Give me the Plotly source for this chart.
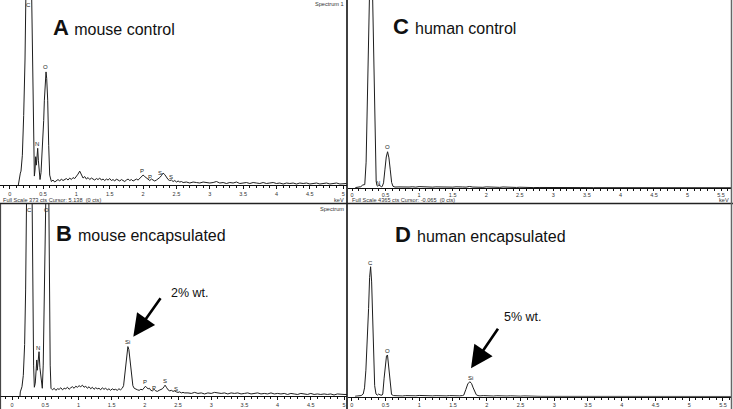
import plotly.graph_objects as go

W, H = 733, 409

# ---------------- data (keV, counts) ----------------
spectrum_a = [  # mouse control, full scale 373 cts
    (0.13, 0), (0.14, 10), (0.15, 20), (0.16, 24), (0.17, 28), (0.19, 60), (0.21, 140),
    (0.23, 252), (0.25, 450), (0.27, 700), (0.29, 820), (0.31, 660), (0.33, 380),
    (0.345, 200), (0.36, 45), (0.37, 18), (0.38, 30), (0.39, 57), (0.40, 40), (0.41, 62),
    (0.42, 74), (0.43, 50), (0.44, 22), (0.455, 11), (0.47, 25), (0.49, 70), (0.51, 130),
    (0.52, 171), (0.53, 210), (0.545, 228), (0.555, 215), (0.57, 171), (0.585, 80), (0.60, 20),
    (0.625, 7), (0.65, 10), (0.675, 6), (0.70, 9), (0.725, 11), (0.75, 8), (0.775, 12),
    (0.80, 9), (0.825, 11), (0.85, 13), (0.875, 10), (0.90, 14), (0.925, 11), (0.95, 15),
    (0.975, 13), (1.00, 17), (1.025, 22), (1.05, 28), (1.075, 19), (1.10, 14), (1.125, 17),
    (1.15, 12), (1.175, 15), (1.20, 11), (1.225, 14), (1.25, 12), (1.275, 10), (1.30, 13),
    (1.325, 11), (1.35, 14), (1.375, 10), (1.40, 12), (1.425, 9), (1.45, 12), (1.475, 10),
    (1.50, 13), (1.525, 9), (1.55, 11), (1.575, 8), (1.60, 12), (1.625, 10), (1.65, 8),
    (1.675, 11), (1.70, 9), (1.725, 7), (1.75, 10), (1.775, 12), (1.80, 9), (1.825, 11),
    (1.85, 8), (1.875, 10), (1.90, 12), (1.925, 10), (1.95, 13), (1.975, 15), (2.00, 20),
    (2.025, 17), (2.05, 14), (2.075, 11), (2.10, 9), (2.125, 12), (2.15, 10), (2.175, 8),
    (2.20, 10), (2.225, 12), (2.25, 15), (2.275, 19), (2.30, 24), (2.325, 21), (2.35, 15),
    (2.375, 11), (2.40, 9), (2.425, 10), (2.45, 7), (2.475, 9), (2.50, 6), (2.525, 8),
    (2.55, 6), (2.575, 7), (2.60, 5), (2.65, 6), (2.70, 4), (2.75, 6), (2.80, 5), (2.85, 4),
    (2.90, 6), (2.95, 5), (3.00, 4), (3.05, 5), (3.10, 7), (3.15, 4), (3.20, 5), (3.25, 3),
    (3.30, 5), (3.35, 4), (3.40, 6), (3.45, 3), (3.50, 4), (3.55, 5), (3.60, 3), (3.65, 5),
    (3.70, 4), (3.75, 3), (3.80, 5), (3.85, 3), (3.90, 4), (3.95, 5), (4.00, 3), (4.05, 4),
    (4.10, 2), (4.15, 4), (4.20, 3), (4.25, 4), (4.30, 2), (4.35, 4), (4.40, 3), (4.45, 4),
    (4.50, 2), (4.55, 3), (4.60, 4), (4.65, 2), (4.70, 3), (4.75, 4), (4.80, 2), (4.85, 3),
    (4.90, 4), (4.95, 2), (5.00, 3), (5.05, 3),
]

spectrum_b = [  # mouse encapsulated
    (0.12, 0), (0.125, 8), (0.15, 18), (0.17, 40), (0.19, 100), (0.205, 206), (0.22, 400),
    (0.24, 650), (0.26, 760), (0.28, 680), (0.30, 420), (0.31, 206), (0.325, 60), (0.336, 17),
    (0.35, 25), (0.365, 54), (0.372, 70), (0.38, 50), (0.395, 75), (0.407, 86), (0.42, 55),
    (0.44, 25), (0.456, 15), (0.47, 60), (0.487, 206), (0.50, 380), (0.52, 560), (0.535, 600),
    (0.55, 450), (0.562, 206), (0.575, 60), (0.587, 15),
    (0.61, 12), (0.635, 15), (0.66, 11), (0.685, 14), (0.71, 13), (0.735, 16), (0.76, 12),
    (0.785, 15), (0.81, 14), (0.835, 17), (0.86, 13), (0.885, 16), (0.91, 18), (0.935, 15),
    (0.96, 19), (0.985, 17), (1.01, 20), (1.035, 18), (1.06, 21), (1.085, 17), (1.11, 19),
    (1.135, 15), (1.16, 18), (1.185, 14), (1.21, 17), (1.235, 13), (1.26, 16), (1.285, 14),
    (1.31, 15), (1.335, 12), (1.36, 16), (1.385, 13), (1.41, 15), (1.435, 12), (1.46, 14),
    (1.485, 11), (1.51, 14), (1.535, 12), (1.56, 13), (1.585, 11), (1.61, 14), (1.635, 12),
    (1.66, 15), (1.68, 20), (1.70, 45), (1.715, 70), (1.73, 88), (1.745, 96), (1.76, 90),
    (1.775, 70), (1.79, 48), (1.805, 30), (1.82, 20), (1.84, 15), (1.865, 13), (1.89, 12),
    (1.915, 11), (1.94, 13), (1.965, 12), (1.99, 15), (2.01, 19), (2.03, 16), (2.05, 14),
    (2.07, 15), (2.09, 11), (2.115, 10), (2.14, 13), (2.165, 10), (2.19, 9), (2.215, 11),
    (2.24, 12), (2.265, 14), (2.29, 18), (2.305, 21), (2.325, 17), (2.35, 12), (2.375, 10),
    (2.40, 11), (2.425, 9), (2.45, 10), (2.475, 8), (2.50, 7), (2.525, 8), (2.55, 6),
    (2.575, 7), (2.60, 6), (2.65, 6), (2.70, 5), (2.75, 7), (2.80, 5), (2.85, 6), (2.90, 4),
    (2.95, 6), (3.00, 5), (3.05, 7), (3.10, 6), (3.15, 5), (3.20, 6), (3.25, 4), (3.30, 6),
    (3.35, 5), (3.40, 6), (3.45, 4), (3.50, 5), (3.55, 6), (3.60, 4), (3.65, 5), (3.70, 6),
    (3.75, 4), (3.80, 5), (3.85, 4), (3.90, 6), (3.95, 4), (4.00, 5), (4.05, 4), (4.10, 5),
    (4.15, 3), (4.20, 5), (4.25, 4), (4.30, 3), (4.35, 5), (4.40, 4), (4.45, 3), (4.50, 5),
    (4.55, 3), (4.60, 4), (4.65, 3), (4.70, 4), (4.75, 3), (4.80, 4), (4.85, 2), (4.90, 4),
    (4.95, 3), (5.00, 3), (5.05, 3),
]

spectrum_c = [  # human control, full scale 4365 cts
    (0.05, 10), (0.10, 15), (0.13, 30), (0.16, 70), (0.19, 80), (0.21, 600), (0.23, 2180),
    (0.25, 4000), (0.265, 5400), (0.28, 6000), (0.295, 5400), (0.31, 4200), (0.33, 2180),
    (0.345, 700), (0.36, 150), (0.375, 50), (0.38, 40), (0.40, 70), (0.42, 40), (0.44, 30),
    (0.45, 35), (0.47, 120), (0.49, 421), (0.51, 720), (0.53, 842), (0.55, 700), (0.57, 421),
    (0.59, 130), (0.61, 40), (0.64, 22), (0.70, 25), (0.75, 20), (0.80, 30), (0.85, 22),
    (0.90, 28), (0.95, 20), (1.00, 32), (1.05, 26), (1.10, 22), (1.15, 30), (1.20, 20),
    (1.25, 26), (1.30, 22), (1.35, 28), (1.40, 18), (1.45, 25), (1.50, 20), (1.55, 27),
    (1.60, 18), (1.65, 24), (1.70, 20), (1.75, 35), (1.80, 22), (1.85, 18), (1.90, 24),
    (1.95, 16), (2.00, 26), (2.05, 20), (2.10, 16), (2.15, 22), (2.20, 15), (2.25, 24),
    (2.30, 18), (2.35, 14), (2.40, 20), (2.45, 13), (2.50, 18), (2.55, 12), (2.60, 15),
    (2.70, 10), (2.80, 12), (2.90, 9), (3.00, 11), (3.20, 9), (3.40, 10), (3.60, 8),
    (3.80, 9), (4.00, 8), (4.20, 9), (4.40, 7), (4.60, 8), (4.80, 7), (5.00, 8), (5.20, 7),
    (5.40, 7), (5.65, 6),
]

spectrum_d = [  # human encapsulated
    (0.05, 10), (0.10, 14), (0.14, 25), (0.17, 60), (0.19, 200), (0.21, 600), (0.23, 1200),
    (0.25, 2000), (0.265, 2700), (0.28, 2944), (0.295, 2600), (0.31, 1600), (0.325, 800),
    (0.34, 250), (0.36, 60), (0.38, 35), (0.40, 60), (0.42, 40), (0.45, 35), (0.46, 60),
    (0.48, 420), (0.50, 750), (0.515, 920), (0.53, 945), (0.545, 700), (0.56, 420),
    (0.575, 160), (0.59, 50), (0.62, 25), (0.66, 18), (0.70, 22), (0.75, 16), (0.80, 24),
    (0.85, 18), (0.90, 26), (0.95, 20), (1.00, 28), (1.05, 22), (1.10, 18), (1.15, 25),
    (1.20, 19), (1.25, 23), (1.30, 17), (1.35, 22), (1.40, 18), (1.45, 24), (1.50, 17),
    (1.55, 21), (1.60, 19), (1.64, 25), (1.66, 35), (1.69, 160), (1.72, 290), (1.75, 340),
    (1.775, 300), (1.80, 200), (1.82, 110), (1.845, 45), (1.87, 25), (1.90, 18), (1.95, 24),
    (2.00, 16), (2.05, 22), (2.10, 15), (2.15, 21), (2.20, 14), (2.25, 20), (2.30, 15),
    (2.35, 19), (2.40, 13), (2.45, 18), (2.50, 12), (2.55, 17), (2.60, 12), (2.65, 15),
    (2.70, 10), (2.80, 8), (3.00, 7), (3.20, 8), (3.40, 6), (3.60, 7), (3.80, 6), (4.00, 7),
    (4.20, 6), (4.40, 6), (4.60, 5), (4.80, 6), (5.00, 5), (5.20, 6), (5.40, 5), (5.65, 5),
]

full_scale = {"A": 373, "B": 373, "C": 4365, "D": 4365}

peak_labels_a = ["C", "N", "O", "P", "P", "S", "S"]
peak_kev_a = [0.289, 0.405, 0.544, 1.98, 2.11, 2.26, 2.42]
peak_cts_a = [363, 82, 237, 29, 17, 24, 17]

peak_labels_b = ["C", "O", "N", "Si", "P", "P", "S", "S"]
peak_kev_b = [0.27, 0.52, 0.387, 1.742, 2.01, 2.14, 2.30, 2.465]
peak_cts_b = [361, 361, 94, 105, 28, 16, 30, 14]

peak_labels_c = ["N", "O"]
peak_kev_c = [0.39, 0.53]
peak_cts_c = [123, 958]

peak_labels_d = ["C", "O", "Si"]
peak_kev_d = [0.276, 0.533, 1.757]
peak_cts_d = [3035, 1035, 430]

titles = {"A": "mouse control", "B": "mouse encapsulated",
          "C": "human control", "D": "human encapsulated"}
footer_a = "Full Scale 373 cts Cursor: 5.138  (0 cts)"
footer_c = "Full Scale 4365 cts Cursor: -0.065  (0 cts)"
silicon_b = "2% wt."
silicon_d = "5% wt."

# ---------------- figure ----------------
def px(x):
    return x / W

def py(y):
    return 1 - y / H

fig = go.Figure()
panels = [("A", "x", "y", spectrum_a), ("C", "x2", "y2", spectrum_c),
          ("B", "x3", "y3", spectrum_b), ("D", "x4", "y4", spectrum_d)]
for name, xa, ya, spec in panels:
    fig.add_trace(go.Scatter(
        x=[p[0] for p in spec], y=[p[1] for p in spec], xaxis=xa, yaxis=ya,
        mode="lines", line=dict(color="#1e1e1e", width=1), hoverinfo="skip",
        showlegend=False))

xcommon = dict(showgrid=False, zeroline=False, showline=True, linecolor="#111",
               linewidth=1, ticks="outside", ticklen=3, tickwidth=1, tickcolor="#111",
               tick0=0, dtick=0.5, automargin=False,
               tickfont=dict(size=5.5, color="#333", family="Arial, Liberation Sans"),
               minor=dict(dtick=0.1, ticks="outside", ticklen=2, tickcolor="#111"),
               fixedrange=True)
xshort = dict(xcommon, ticklen=1.5,
              minor=dict(dtick=0.1, ticks="outside", ticklen=1.5, tickcolor="#111"))
ycommon = dict(visible=False, showgrid=False, zeroline=False, fixedrange=True,
               automargin=False)

fig.update_layout(
    template="none",
    width=W, height=H, margin=dict(l=0, r=0, t=0, b=0, pad=0, autoexpand=False),
    paper_bgcolor="white", plot_bgcolor="white", showlegend=False,
    xaxis=dict(xcommon, domain=[0, px(347)], range=[-0.145, 5.057], anchor="y"),
    yaxis=dict(ycommon, domain=[py(185), 1], range=[0, full_scale["A"]], anchor="x"),
    xaxis2=dict(xshort, domain=[px(348), px(731)], range=[-0.060, 5.648], anchor="y2"),
    yaxis2=dict(ycommon, domain=[py(188), 1], range=[0, full_scale["C"]], anchor="x2"),
    xaxis3=dict(xcommon, domain=[0, px(347)], range=[-0.181, 5.045], anchor="y3"),
    yaxis3=dict(ycommon, domain=[py(396), py(204)], range=[0, full_scale["B"]], anchor="x3"),
    xaxis4=dict(xcommon, domain=[px(348), px(731)], range=[-0.055, 5.619], anchor="y4"),
    yaxis4=dict(ycommon, domain=[py(396.7), py(204)], range=[0, full_scale["D"]], anchor="x4"),
)

ann = []
small = dict(family="Arial, Liberation Sans", size=6, color="#222")
for labels, kev, cts, xr, yr in [
        (peak_labels_a, peak_kev_a, peak_cts_a, "x", "y"),
        (peak_labels_c, peak_kev_c, peak_cts_c, "x2", "y2"),
        (peak_labels_b, peak_kev_b, peak_cts_b, "x3", "y3"),
        (peak_labels_d, peak_kev_d, peak_cts_d, "x4", "y4")]:
    for t, xv, yv in zip(labels, kev, cts):
        ann.append(dict(text=t, x=xv, y=yv, xref=xr, yref=yr, showarrow=False,
                        xanchor="center", yanchor="middle", font=small))

big = dict(family="Arial, Liberation Sans", size=16, color="#111")
for letter, x0, y0 in [("A", 50.5, 27.5), ("C", 391, 26.5), ("B", 53.5, 233.5), ("D", 392.8, 234.5)]:
    ann.append(dict(
        text="<span style='font-size:22px;font-weight:bold'>" + letter + " </span>" + titles[letter],
        x=px(x0), y=py(y0), xref="paper", yref="paper", showarrow=False,
        xanchor="left", yanchor="middle", font=big))

mid = dict(family="Arial, Liberation Sans", size=12.5, color="#111")
ann.append(dict(text=silicon_b, x=px(168.5), y=py(292.7), xref="paper", yref="paper",
                showarrow=False, xanchor="left", yanchor="middle", font=mid))
ann.append(dict(text=silicon_d, x=px(501.5), y=py(317), xref="paper", yref="paper",
                showarrow=False, xanchor="left", yanchor="middle", font=mid))
for tipx, tipy, axp, ayp in [(133.3, 336.7, 28.3, -40), (471, 368.3, 28, -41)]:
    ann.append(dict(text="", x=px(tipx), y=py(tipy), xref="paper", yref="paper",
                    showarrow=True, ax=axp, ay=ayp, arrowhead=2, arrowsize=1.7,
                    arrowwidth=2.6, arrowcolor="#000", standoff=0))

tiny = dict(family="Arial, Liberation Sans", size=5.6, color="#333")
ann += [
    dict(text=footer_a, x=px(0.5), y=py(200.5), xanchor="left", yanchor="middle"),
    dict(text="keV", x=px(346), y=py(200.5), xanchor="right", yanchor="middle"),
    dict(text=footer_c, x=px(350), y=py(200.5), xanchor="left", yanchor="middle"),
    dict(text="keV", x=px(731), y=py(200.5), xanchor="right", yanchor="middle"),
    dict(text="Spectrum 1", x=px(346), y=py(4), xanchor="right", yanchor="middle"),
    dict(text="Spectrum", x=px(346), y=py(209), xanchor="right", yanchor="middle"),
]
for a in ann[-6:]:
    a.update(xref="paper", yref="paper", showarrow=False, font=tiny)
fig.update_layout(annotations=ann)

shapes = [
    dict(type="line", x0=px(347), x1=px(347), y0=0, y1=1, line=dict(color="#111", width=1.6)),
    dict(type="line", x0=0, x1=1, y0=py(203.5), y1=py(203.5), line=dict(color="#222", width=1.5)),
    dict(type="line", x0=px(731.5), x1=px(731.5), y0=0, y1=1, line=dict(color="#666", width=1.5)),
    dict(type="line", x0=px(0.6), x1=px(0.6), y0=0, y1=py(204), line=dict(color="#333", width=1)),
]
for s in shapes:
    s.update(xref="paper", yref="paper")
fig.update_layout(shapes=shapes)

fig.write_html(
    "out.html",
    config={"displayModeBar": False, "staticPlot": True},
    post_script="document.body.style.margin='0px';document.body.style.overflow='hidden';",
)
